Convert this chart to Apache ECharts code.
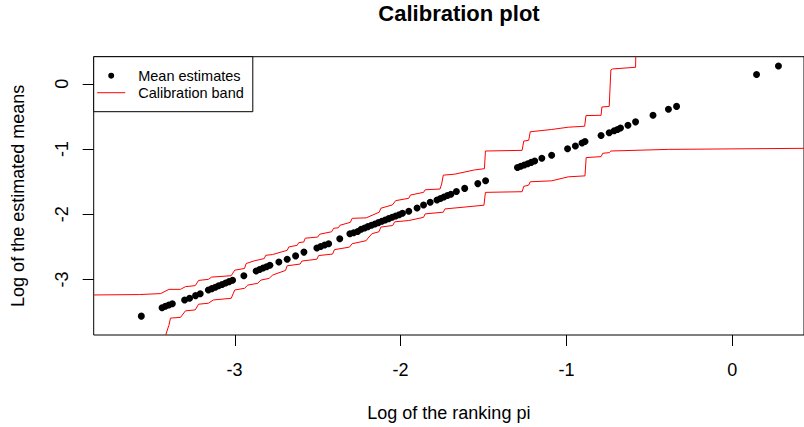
<!DOCTYPE html>
<html>
<head>
<meta charset="utf-8">
<script src="https://cdn.jsdelivr.net/npm/echarts@6/dist/echarts.min.js"></script>
<style>
  html, body { margin: 0; padding: 0; background: #ffffff; }
  #chart { width: 804px; height: 427px; }
</style>
</head>
<body>
<div id="chart"></div>
<script>
// ---- Data ----
const estX = [-3.562, -3.437, -3.417, -3.396, -3.375, -3.301, -3.271, -3.235, -3.207, -3.158, -3.137, -3.116, -3.096, -3.075, -3.054, -3.033, -3.012, -2.944, -2.870, -2.849, -2.828, -2.807, -2.787, -2.733, -2.683, -2.632, -2.582, -2.504, -2.481, -2.457, -2.433, -2.366, -2.305, -2.282, -2.258, -2.237, -2.216, -2.196, -2.175, -2.154, -2.133, -2.112, -2.092, -2.071, -2.050, -2.029, -2.008, -1.988, -1.950, -1.900, -1.861, -1.821, -1.780, -1.759, -1.738, -1.717, -1.696, -1.663, -1.613, -1.534, -1.487, -1.295, -1.275, -1.254, -1.233, -1.212, -1.191, -1.148, -1.089, -0.993, -0.946, -0.906, -0.888, -0.791, -0.742, -0.712, -0.692, -0.674, -0.629, -0.583, -0.478, -0.385, -0.336, 0.146, 0.278];
const estY = [-3.562, -3.432, -3.409, -3.391, -3.371, -3.314, -3.288, -3.247, -3.219, -3.161, -3.140, -3.119, -3.097, -3.076, -3.055, -3.033, -3.012, -2.942, -2.869, -2.846, -2.825, -2.804, -2.782, -2.732, -2.689, -2.638, -2.580, -2.516, -2.493, -2.472, -2.451, -2.374, -2.298, -2.283, -2.263, -2.230, -2.210, -2.189, -2.169, -2.148, -2.128, -2.108, -2.087, -2.067, -2.046, -2.026, -2.006, -1.985, -1.953, -1.903, -1.857, -1.816, -1.781, -1.758, -1.735, -1.712, -1.693, -1.651, -1.603, -1.530, -1.487, -1.283, -1.263, -1.244, -1.224, -1.204, -1.184, -1.142, -1.096, -0.994, -0.954, -0.906, -0.883, -0.791, -0.750, -0.720, -0.700, -0.677, -0.635, -0.583, -0.482, -0.391, -0.346, 0.142, 0.274];

const upperX = [-3.849, -3.574, -3.445, -3.396, -3.326, -3.296, -3.237, -3.217, -3.158, -3.138, -3.020, -2.999, -2.940, -2.930, -2.881, -2.821, -2.812, -2.772, -2.683, -2.673, -2.623, -2.613, -2.583, -2.574, -2.499, -2.487, -2.415, -2.403, -2.374, -2.365, -2.302, -2.291, -2.207, -2.128, -2.118, -2.049, -2.029, -1.950, -1.940, -1.861, -1.851, -1.762, -1.752, -1.742, -1.673, -1.554, -1.494, -1.488, -1.267, -1.257, -1.227, -1.218, -1.089, -0.989, -0.890, -0.882, -0.791, -0.786, -0.742, -0.732, -0.722, -0.583, -0.582];
const upperY = [-3.237, -3.231, -3.216, -3.151, -3.151, -3.110, -3.094, -3.014, -2.998, -2.963, -2.942, -2.857, -2.831, -2.755, -2.714, -2.679, -2.629, -2.618, -2.553, -2.501, -2.476, -2.435, -2.425, -2.367, -2.349, -2.306, -2.268, -2.215, -2.207, -2.169, -2.123, -2.062, -2.055, -1.968, -1.907, -1.857, -1.791, -1.755, -1.705, -1.664, -1.624, -1.613, -1.537, -1.400, -1.385, -1.320, -1.301, -1.030, -1.020, -0.878, -0.865, -0.735, -0.700, -0.665, -0.650, -0.487, -0.482, -0.355, -0.346, 0.213, 0.228, 0.254, 0.416];

const lowerX = [-3.415, -3.396, -3.386, -3.326, -3.296, -3.237, -3.217, -3.158, -3.128, -3.020, -2.999, -2.940, -2.920, -2.861, -2.841, -2.791, -2.772, -2.693, -2.683, -2.605, -2.594, -2.504, -2.493, -2.409, -2.398, -2.308, -2.291, -2.207, -2.196, -2.172, -2.130, -2.118, -2.047, -2.035, -1.950, -1.861, -1.851, -1.742, -1.732, -1.623, -1.497, -1.488, -1.267, -1.257, -1.227, -1.218, -1.089, -0.989, -0.888, -0.881, -0.791, -0.781, -0.742, -0.732, -0.385, 0.432];
const lowerY = [-3.851, -3.703, -3.592, -3.581, -3.481, -3.466, -3.379, -3.364, -3.314, -3.288, -3.161, -3.135, -3.085, -3.059, -3.009, -2.983, -2.933, -2.861, -2.790, -2.763, -2.717, -2.689, -2.633, -2.610, -2.542, -2.504, -2.451, -2.405, -2.367, -2.298, -2.268, -2.196, -2.172, -2.116, -2.096, -2.047, -1.994, -1.968, -1.918, -1.892, -1.861, -1.664, -1.654, -1.572, -1.553, -1.502, -1.487, -1.426, -1.411, -1.131, -1.116, -1.065, -1.055, -1.030, -1.005, -0.989];

const xTicks = [-3, -2, -1, 0];
const yTicks = [-3, -2, -1, 0];

const titleText = 'Calibration plot';
const xName = 'Log of the ranking pi';
const yName = 'Log of the estimated means';
const seriesNames = ['Mean estimates', 'Calibration band'];

// ---- Build the chart ----
const zip = (a, b) => a.map((v, i) => [v, b[i]]);
const FONT = 'Liberation Sans, Arial, sans-serif';
const X_MIN = -3.849, X_MAX = 0.432, Y_MIN = -3.851, Y_MAX = 0.416;
const TICK_LEN = 11;
const crisp = v => Math.round(v) + 0.5;

const chart = echarts.init(document.getElementById('chart'), null, { renderer: 'svg', width: 804, height: 427 });

const option = {
  animation: false,
  backgroundColor: '#ffffff',
  title: {
    text: titleText,
    left: 454,
    top: -3,
    textAlign: 'center',
    textStyle: { fontFamily: FONT, fontSize: 22, fontWeight: 'bold', color: '#000000' }
  },
  legend: {
    left: 93.7,
    top: 56.7,
    orient: 'vertical',
    padding: [10.5, 9, 10.5, 3.5],
    itemGap: 0,
    itemWidth: 28,
    itemHeight: 6,
    borderColor: '#000000',
    borderWidth: 1,
    backgroundColor: '#ffffff',
    formatter: name => '{s|}{n|' + name + '}',
    textStyle: {
      fontFamily: FONT, fontSize: 14.5, color: '#000000', lineHeight: 17,
      rich: { s: { width: 8 }, n: { fontFamily: FONT, fontSize: 14.5, color: '#000000', lineHeight: 17 } }
    },
    data: [
      { name: seriesNames[0], icon: 'circle' },
      { name: seriesNames[1], icon: 'path://M0,0H28V1H0Z' }
    ]
  },
  grid: {
    left: 93.7,
    top: 56.7,
    right: -10,
    bottom: 90,
    show: true,
    borderColor: '#000000',
    borderWidth: 1
  },
  xAxis: {
    type: 'value',
    min: X_MIN,
    max: X_MAX,
    axisLine: { show: false, onZero: false },
    splitLine: { show: false },
    axisTick: { show: false },
    axisLabel: { customValues: xTicks, fontFamily: FONT, fontSize: 18, color: '#000000', margin: 26 },
    name: xName,
    nameLocation: 'middle',
    nameGap: 69,
    nameTextStyle: { fontFamily: FONT, fontSize: 18, color: '#000000' }
  },
  yAxis: {
    type: 'value',
    min: Y_MIN,
    max: Y_MAX,
    axisLine: { show: false, onZero: false },
    splitLine: { show: false },
    axisTick: { show: false },
    axisLabel: { customValues: yTicks, rotate: 90, fontFamily: FONT, fontSize: 18, color: '#000000', margin: 23 },
    name: yName,
    nameLocation: 'middle',
    nameRotate: 90,
    nameGap: 67,
    nameTextStyle: { fontFamily: FONT, fontSize: 18, color: '#000000' }
  },
  series: [
    {
      name: seriesNames[0],
      type: 'scatter',
      data: zip(estX, estY),
      symbol: 'circle',
      symbolSize: 7,
      clip: false,
      itemStyle: { color: '#000000', opacity: 1 },
      z: 2
    },
    {
      name: seriesNames[1],
      type: 'line',
      data: zip(upperX, upperY),
      showSymbol: false,
      symbol: 'none',
      clip: false,
      lineStyle: { color: '#ff0000', width: 1 },
      itemStyle: { color: '#ff0000' },
      z: 3
    },
    {
      name: seriesNames[1],
      type: 'line',
      data: zip(lowerX, lowerY),
      showSymbol: false,
      symbol: 'none',
      clip: false,
      lineStyle: { color: '#ff0000', width: 1 },
      itemStyle: { color: '#ff0000' },
      z: 3
    },
    // x-axis tick marks (outside the plot box), placed through the axis scale
    {
      name: 'x ticks',
      type: 'custom',
      silent: true,
      clip: false,
      z: 5,
      data: xTicks.map(v => [v]),
      renderItem: (params, api) => {
        const p = api.coord([api.value(0), Y_MIN]);
        const x = crisp(p[0]);
        return { type: 'line', shape: { x1: x, y1: p[1], x2: x, y2: p[1] + TICK_LEN },
                 style: { stroke: '#000000', lineWidth: 1 } };
      }
    },
    // y-axis tick marks
    {
      name: 'y ticks',
      type: 'custom',
      silent: true,
      clip: false,
      z: 5,
      data: yTicks.map(v => [X_MIN, v]),
      renderItem: (params, api) => {
        const p = api.coord([X_MIN, api.value(1)]);
        const y = crisp(p[1]);
        return { type: 'line', shape: { x1: p[0] - TICK_LEN, y1: y, x2: p[0], y2: y },
                 style: { stroke: '#000000', lineWidth: 1 } };
      }
    }
  ]
};

try { chart.setOption(option); } catch (e) { console.error(e); }
</script>
</body>
</html>
